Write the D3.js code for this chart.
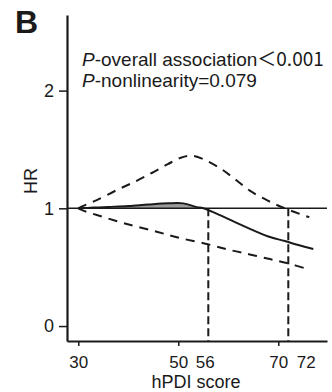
<!DOCTYPE html>
<html>
<head>
<meta charset="utf-8">
<script src="https://cdn.jsdelivr.net/npm/d3@7"></script>
<style>
  html, body { margin: 0; padding: 0; background: #fff; }
  svg { display: block; }
  text { font-family: "Liberation Sans", Arial, sans-serif; fill: #1a1a1a; }
</style>
</head>
<body>
<svg id="chart" width="332" height="392"></svg>
<script>
// hPDI score vs hazard ratio (restricted cubic spline)
const scoreHR   = [30, 33, 36, 40, 44, 48, 51, 53.7, 55, 59, 62, 65.7, 68, 71.3, 74, 77];
const hrValues  = [1.0, 1.006, 1.012, 1.02, 1.032, 1.042, 1.042, 1.01, 1.0, 0.929, 0.87, 0.80, 0.76, 0.722, 0.688, 0.655];

const scoreUpper = [30, 31, 33.7, 37.7, 41.3, 44.7, 47.9, 50.5, 52.5, 54.9, 58.3, 61.3, 64.3, 67.9, 71.3, 74.9, 76.2];
const upperCI    = [1.0, 1.02, 1.07, 1.155, 1.226, 1.30, 1.375, 1.43, 1.447, 1.419, 1.342, 1.249, 1.15, 1.065, 1.0, 0.943, 0.925];

const scoreLower = [30, 31, 33.7, 39.7, 45.7, 50.3, 55.7, 60.3, 64.3, 68.3, 71.7, 76.0];
const lowerCI    = [1.0, 0.98, 0.943, 0.867, 0.801, 0.748, 0.697, 0.646, 0.608, 0.569, 0.535, 0.482];

const xTicks = [30, 50, 70];
const yTicks = [0, 1, 2];
const refScores = [56, 72];          // scores marked with dashed drop lines
const refLabelShift = [-3, 18];      // label nudges beside neighbouring ticks

const annotation1 = "-overall association";
const annotation1Value = "＜0.001";
const annotation2 = "-nonlinearity=0.079";

const svg = d3.select("#chart");
const ink = "#1a1a1a";

const x = d3.scaleLinear().domain([27.74, 79.74]).range([67, 327]);
const y = d3.scaleLinear().domain([-0.127, 2.642]).range([341, 15]);

const zip = (xs, ys) => xs.map((v, i) => [v, ys[i]]);
const hrPts = zip(scoreHR, hrValues);
const upPts = zip(scoreUpper, upperCI);
const loPts = zip(scoreLower, lowerCI);

const line = d3.line().x(d => x(d[0])).y(d => y(d[1])).curve(d3.curveCatmullRom.alpha(0.5));

// shaded band where HR sits above 1
const area = d3.area()
  .x(d => x(d[0]))
  .y0(y(1))
  .y1(d => y(Math.max(d[1], 1)))
  .curve(d3.curveCatmullRom.alpha(0.5));
svg.append("path")
  .datum(hrPts.filter(d => d[0] <= 55))
  .attr("d", area)
  .attr("fill", "#9c9c9c");

// reference line HR = 1
svg.append("line")
  .attr("x1", x.range()[0]).attr("x2", x.range()[1])
  .attr("y1", y(1)).attr("y2", y(1))
  .attr("stroke", ink).attr("stroke-width", 1.5);

// drop lines
svg.selectAll(".drop").data(refScores).enter().append("line")
  .attr("x1", d => x(d)).attr("x2", d => x(d))
  .attr("y1", y(1)).attr("y2", y.range()[0])
  .attr("stroke", ink).attr("stroke-width", 2)
  .attr("stroke-dasharray", "8,4");

// confidence limits
[upPts, loPts].forEach(pts => {
  svg.append("path").datum(pts).attr("d", line)
    .attr("fill", "none").attr("stroke", ink)
    .attr("stroke-width", 2).attr("stroke-dasharray", "9,7");
});

// HR curve
svg.append("path").datum(hrPts).attr("d", line)
  .attr("fill", "none").attr("stroke", ink).attr("stroke-width", 2);

// axes
const xAxis = svg.append("g")
  .attr("transform", `translate(0,${y.range()[0]})`)
  .call(d3.axisBottom(x).tickValues(xTicks).tickFormat(d3.format("d"))
    .tickSize(5).tickSizeOuter(0).tickPadding(10));
const yAxis = svg.append("g")
  .attr("transform", `translate(${x.range()[0]},0)`)
  .call(d3.axisLeft(y).tickValues(yTicks).tickFormat(d3.format("d"))
    .tickSize(8).tickSizeOuter(0).tickPadding(5));

[xAxis, yAxis].forEach(g => {
  g.select(".domain").attr("stroke", ink).attr("stroke-width", 2.2);
  g.selectAll(".tick line").attr("stroke", ink).attr("stroke-width", 1.5);
  g.selectAll(".tick text")
    .attr("fill", ink)
    .style("font-family", '"Liberation Sans", Arial, sans-serif')
    .style("font-size", "17px");
});
yAxis.selectAll(".tick text").style("font-size", "18px");

// labels for the drop-line scores
svg.selectAll(".refLabel").data(refScores).enter().append("text")
  .attr("x", (d, i) => x(d) + refLabelShift[i])
  .attr("y", 368)
  .attr("text-anchor", "middle")
  .style("font-size", "17px")
  .text(d => d);

// axis titles
svg.append("text")
  .attr("x", 196).attr("y", 388)
  .attr("text-anchor", "middle")
  .style("font-size", "18px")
  .text("hPDI score");

svg.append("text")
  .attr("transform", "translate(37,181) rotate(-90)")
  .attr("text-anchor", "middle")
  .style("font-size", "18px")
  .text("HR");

// panel letter
svg.append("text")
  .attr("x", 15).attr("y", 33)
  .style("font-size", "32px").style("font-weight", "bold")
  .attr("fill", "#111")
  .text("B");

// statistics
const t1 = svg.append("text").attr("x", 82).attr("y", 66).style("font-size", "19px");
t1.append("tspan").style("font-style", "italic").text("P");
t1.append("tspan").text(annotation1);
t1.append("tspan").style("font-family", '"Noto Sans CJK SC", sans-serif').text(annotation1Value);

const t2 = svg.append("text").attr("x", 82).attr("y", 87).style("font-size", "19px");
t2.append("tspan").style("font-style", "italic").text("P");
t2.append("tspan").text(annotation2);
</script>
</body>
</html>
